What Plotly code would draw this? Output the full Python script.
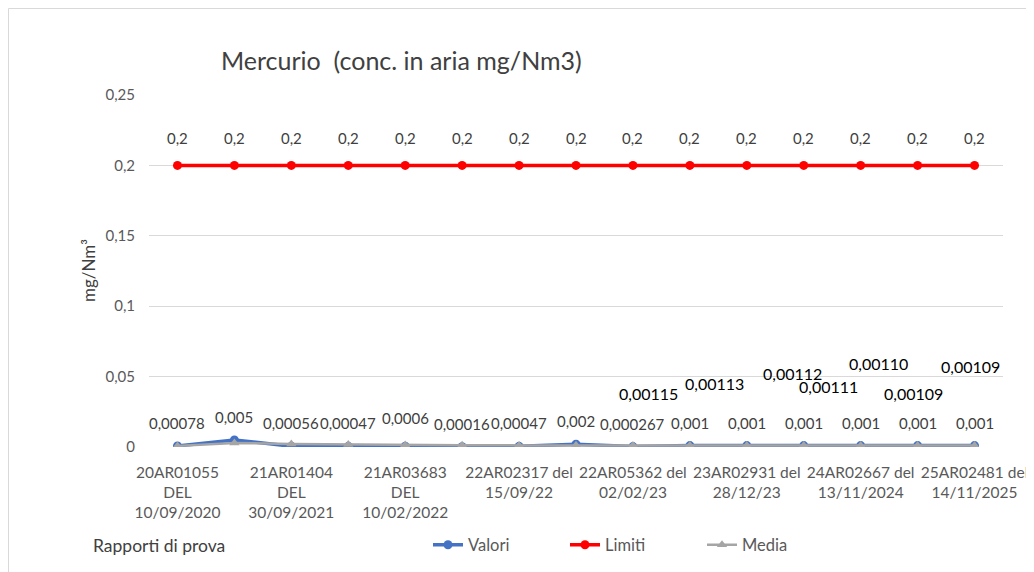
import plotly.graph_objects as go

# --- data -------------------------------------------------------------------
report_pos = list(range(15))
tick_pos = [0, 2, 4, 6, 8, 10, 12, 14]
tick_labels = [
    "20AR01055<br>DEL<br>10/09/2020",
    "21AR01404<br>DEL<br>30/09/2021",
    "21AR03683<br>DEL<br>10/02/2022",
    "22AR02317 del<br>15/09/22",
    "22AR05362 del<br>02/02/23",
    "23AR02931 del<br>28/12/23",
    "24AR02667 del<br>13/11/2024",
    "25AR02481 del<br>14/11/2025",
]
valori = [0.00078, 0.005, 0.00056, 0.00047, 0.0006, 0.00016, 0.00047, 0.002,
          0.000267, 0.001, 0.001, 0.001, 0.001, 0.001, 0.001]
valori_txt = ["0,00078", "0,005", "0,00056", "0,00047", "0,0006", "0,00016", "0,00047",
              "0,002", "0,000267", "0,001", "0,001", "0,001", "0,001", "0,001", "0,001"]
limiti = [0.2] * 15
limiti_txt = ["0,2"] * 15
media = [0.00078, 0.00289, 0.00211, 0.00170, 0.00148, 0.00126, 0.00115, 0.00126,
         0.00115, 0.00113, 0.00112, 0.00111, 0.00110, 0.00109, 0.00109]
media_txt = ["", "", "", "", "", "", "", "",
             "0,00115", "0,00113", "0,00112", "0,00111", "0,00110", "0,00109", "0,00109"]

# --- styling ----------------------------------------------------------------
FONT = "Lato"
GREY_TXT = "#595959"
W, H = 1034, 572
OFF = 8  # page body margin pushes the figure by 8px
# plot area in screen pixels: x 149..1003, y 95..447
ML, MT = 149 - OFF, 95 - OFF
PW, PH = 854, 352
MR, MB = W - ML - PW, H - MT - PH


def px(xs):
    return (xs - OFF - ML) / PW


def py(ys):
    return (MT + PH - (ys - OFF)) / PH


# hand-placed media label offsets (px, y up), as in the original sheet
media_shift = [(0, 0)] * 8 + [(16, 52), (25, 62), (46, 72), (25, 59),
                              (18, 82), (-4, 52), (-4, 79)]
valori_dy = [23] * 15
valori_dy[4] = 28

fig = go.Figure()

fig.add_trace(go.Scatter(
    x=report_pos, y=valori, name="Valori", mode="lines+markers",
    line=dict(color="#4472C4", width=3.5),
    marker=dict(symbol="circle", size=9, color="#4472C4"),
))
fig.add_trace(go.Scatter(
    x=report_pos, y=limiti, name="Limiti", mode="lines+markers",
    line=dict(color="#FF0000", width=3.5),
    marker=dict(symbol="circle", size=9, color="#FF0000"),
))
fig.add_trace(go.Scatter(
    x=report_pos, y=media, name="Media", mode="lines+markers",
    line=dict(color="#A5A5A5", width=2.5),
    marker=dict(symbol="triangle-up", size=9, color="#A5A5A5"),
))

annots = []
for x, y, t, dy in zip(report_pos, valori, valori_txt, valori_dy):
    annots.append(dict(x=x, y=y, text=t, showarrow=False, yshift=dy,
                       font=dict(family=FONT, size=15, color="#404040")))
for x, y, t in zip(report_pos, limiti, limiti_txt):
    annots.append(dict(x=x, y=y, text=t, showarrow=False, yshift=27,
                       font=dict(family=FONT, size=15, color="#404040")))
for x, y, t, (dx, dy) in zip(report_pos, media, media_txt, media_shift):
    if t:
        annots.append(dict(x=x, y=y, text=t, showarrow=False, xshift=dx, yshift=dy,
                           font=dict(family=FONT, size=16, color="#000000")))

annots += [
    dict(text="Mercurio  (conc. in aria mg/Nm3)", xref="paper", yref="paper",
         x=px(219), y=py(60), xanchor="left", yanchor="middle",
         showarrow=False, font=dict(family=FONT, size=25, color="#404040")),
    dict(text="mg/Nm³", xref="paper", yref="paper", textangle=-90,
         x=px(88), y=py(271), xanchor="center", yanchor="middle",
         showarrow=False, font=dict(family=FONT, size=17, color="#404040")),
    dict(text="Rapporti di prova", xref="paper", yref="paper",
         x=px(91), y=py(545), xanchor="left", yanchor="middle",
         showarrow=False, font=dict(family=FONT, size=17.5, color="#404040")),
]

# chart frame (top and left edges visible)
shapes = [
    dict(type="line", xref="paper", yref="paper", x0=px(8.5), x1=px(1040), y0=py(8.5), y1=py(8.5),
         line=dict(color="#D9D9D9", width=1)),
    dict(type="line", xref="paper", yref="paper", x0=px(8.5), x1=px(8.5), y0=py(8.5), y1=py(580),
         line=dict(color="#D9D9D9", width=1)),
]

fig.update_layout(
    width=W, height=H,
    margin=dict(l=ML, r=MR, t=MT, b=MB, autoexpand=False),
    paper_bgcolor="white", plot_bgcolor="white",
    font=dict(family=FONT, size=15, color=GREY_TXT),
    showlegend=True,
    legend=dict(orientation="h", x=px(428), y=py(545),
                xanchor="left", yanchor="middle", entrywidth=92, entrywidthmode="pixels",
                font=dict(family=FONT, size=16.5, color=GREY_TXT)),
    annotations=annots,
    shapes=shapes,
    xaxis=dict(range=[-0.5, 14.5], tickvals=tick_pos, ticktext=tick_labels,
               showgrid=False, zeroline=False, showline=False, ticks="",
               ticklabelstandoff=14,
               tickfont=dict(family=FONT, size=15.5, color=GREY_TXT)),
    yaxis=dict(range=[0, 0.25], tickvals=[0, 0.05, 0.1, 0.15, 0.2, 0.25],
               ticktext=["0", "0,05", "0,1", "0,15", "0,2", "0,25"],
               showgrid=True, gridcolor="#D9D9D9", gridwidth=1, zeroline=False,
               showline=False, ticks="", ticklabelstandoff=13,
               tickfont=dict(family=FONT, size=15, color=GREY_TXT)),
)

fig.write_html("out.html")
